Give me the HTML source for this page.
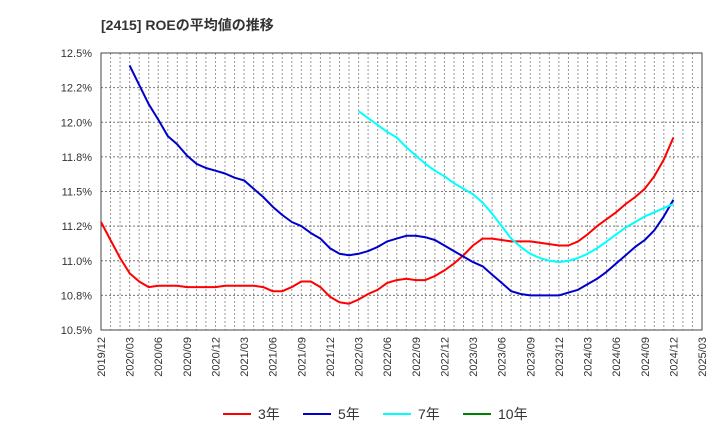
<!DOCTYPE html>
<html><head><meta charset="utf-8"><style>
body{margin:0;background:#fff;font-family:"Liberation Sans","Noto Sans CJK JP",sans-serif;}
svg text{font-family:"Liberation Sans","Noto Sans CJK JP",sans-serif;}
</style></head><body>
<svg id="c" width="720" height="440" viewBox="0 0 720 440" xmlns="http://www.w3.org/2000/svg">
<text x="101" y="30" font-size="14" font-weight="bold" fill="#333">[2415]  ROEの平均値の推移</text>
<g id="grid"></g>
<g id="axes"></g>
<g id="series"></g>
<g id="legend"></g>
</svg>
<script>
const yTicks=[10.5,10.75,11.0,11.25,11.5,11.75,12.0,12.25,12.5];
const yTickLabels=["10.5%","10.8%","11.0%","11.2%","11.5%","11.8%","12.0%","12.2%","12.5%"];
const xTickLabels=["2019/12","2020/03","2020/06","2020/09","2020/12","2021/03","2021/06","2021/09","2021/12","2022/03","2022/06","2022/09","2022/12","2023/03","2023/06","2023/09","2023/12","2024/03","2024/06","2024/09","2024/12","2025/03"];
const roe3=[11.28,11.15,11.02,10.91,10.85,10.81,10.82,10.82,10.82,10.81,10.81,10.81,10.81,10.82,10.82,10.82,10.82,10.81,10.78,10.78,10.81,10.85,10.85,10.81,10.74,10.70,10.69,10.72,10.76,10.79,10.84,10.86,10.87,10.86,10.86,10.89,10.93,10.98,11.04,11.11,11.16,11.16,11.15,11.14,11.14,11.14,11.13,11.12,11.11,11.11,11.14,11.19,11.25,11.30,11.35,11.41,11.46,11.52,11.61,11.73,11.89];
const roe5Start=3;
const roe5=[12.41,12.27,12.13,12.02,11.90,11.84,11.76,11.70,11.67,11.65,11.63,11.60,11.58,11.52,11.46,11.39,11.33,11.28,11.25,11.20,11.16,11.09,11.05,11.04,11.05,11.07,11.10,11.14,11.16,11.18,11.18,11.17,11.15,11.11,11.07,11.03,10.99,10.96,10.90,10.84,10.78,10.76,10.75,10.75,10.75,10.75,10.77,10.79,10.83,10.87,10.92,10.98,11.04,11.10,11.15,11.22,11.32,11.44];
const roe7Start=27;
const roe7=[12.08,12.03,11.98,11.93,11.89,11.82,11.76,11.70,11.65,11.61,11.56,11.52,11.48,11.42,11.34,11.25,11.16,11.10,11.05,11.02,11.00,10.99,11.00,11.02,11.05,11.09,11.14,11.19,11.24,11.28,11.32,11.35,11.38,11.41];
const legendLabels=["3年","5年","7年","10年"];
const legendColors=["#ff0000","#0000cc","#00ffff","#008000"];

const NS="http://www.w3.org/2000/svg";
const L=101,R=702,T=53,B=330,nMonths=63;
const xS=i=>L+(R-L)*i/nMonths;
const yS=v=>B-(v-10.5)/2*(B-T);
function mk(tag,attrs,parent){const e=document.createElementNS(NS,tag);for(const k in attrs)e.setAttribute(k,attrs[k]);parent.appendChild(e);return e;}
const grid=document.getElementById('grid'),axes=document.getElementById('axes'),series=document.getElementById('series'),legend=document.getElementById('legend');
for(let m=1;m<nMonths;m++){const g=mk('line',{x1:xS(m),x2:xS(m),y1:T,y2:B,stroke:'#999','stroke-dasharray':'2,2','stroke-width':1},grid);

}
yTicks.forEach((v,i)=>{
 if(i>0&&i<yTicks.length-1){const g=mk('line',{x1:L,x2:R,y1:yS(v),y2:yS(v),stroke:'#777','stroke-dasharray':'2,2','stroke-width':1},grid);
 
 }
 const t=mk('text',{x:92,y:yS(v)+4,'font-size':11,'text-anchor':'end',fill:'#333'},axes);t.textContent=yTickLabels[i];
 
 
});
xTickLabels.forEach((s,i)=>{const x=xS(i*3);
 const t=mk('text',{x:0,y:0,'font-size':11,'text-anchor':'end',fill:'#333',transform:`translate(${x+4},337) rotate(-90)`},axes);t.textContent=s;
 
 
});
const box=mk('rect',{x:L,y:T,width:R-L,height:B-T,fill:'none',stroke:'#444','stroke-width':1},axes);


function line(arr,start,color,name){const pts=arr.map((v,i)=>xS(start+i).toFixed(1)+','+yS(v).toFixed(1)).join(' ');
 const p=mk('polyline',{points:pts,fill:'none',stroke:color,'stroke-width':2,'stroke-linejoin':'round'},series);
 
 }
line(roe3,0,legendColors[0],'line-3y');
line(roe5,roe5Start,legendColors[1],'line-5y');
line(roe7,roe7Start,legendColors[2],'line-7y');
legendLabels.forEach((s,i)=>{const x0=223+i*80;
 const g=mk('g',{},legend);
 
 
 mk('line',{x1:x0,x2:x0+28,y1:414,y2:414,stroke:legendColors[i],'stroke-width':2},g);
 const t=mk('text',{x:x0+35,y:419,'font-size':14,fill:'#333'},g);t.textContent=s;});
</script>
</body></html>
